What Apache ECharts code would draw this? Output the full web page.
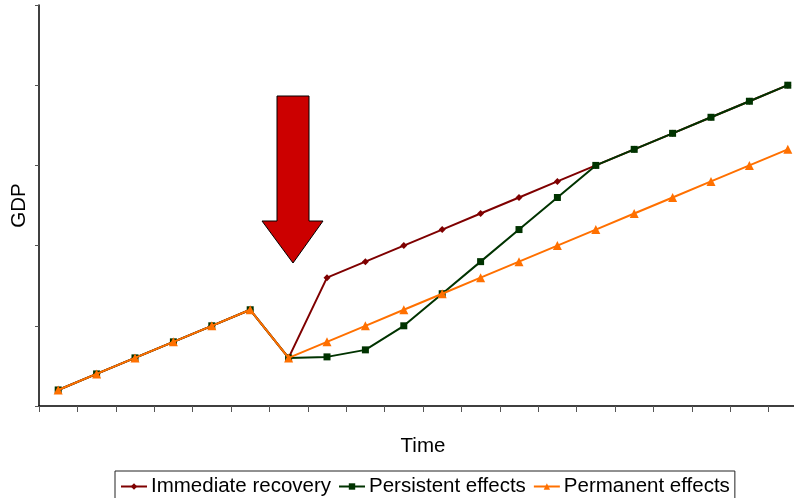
<!DOCTYPE html>
<html><head><meta charset="utf-8">
<script src="https://cdn.jsdelivr.net/npm/echarts@6/dist/echarts.min.js"></script>
<style>html,body{margin:0;padding:0;background:#fff}#c{width:794px;height:498px}</style>
</head><body><div id="c"></div>
<script>
const categories = ['1','2','3','4','5','6','7','8','9','10','11','12','13','14','15','16','17','18','19','20'];
const immediateRecovery = [4,8,12,16,20,24,12,32,36,40,44,48,52,56,60,64,68,72,76,80];
const persistentEffects = [4,8,12,16,20,24,12,12.25,14,20,28,36,44,52,60,64,68,72,76,80];
const permanentEffects  = [4,8,12,16,20,24,12,16,20,24,28,32,36,40,44,48,52,56,60,64];
const yTicks = [0,20,40,60,80,100];

const chart = echarts.init(document.getElementById('c'));
const font = 'Liberation Sans, Arial, sans-serif';
chart.setOption({
  animation: false,
  backgroundColor: '#fff',
  grid: {left: 39, right: -13, top: 5, bottom: 92, containLabel: false, outerBoundsMode: 'none'},
  xAxis: {
    type: 'category', data: categories, boundaryGap: true,
    name: 'Time', nameLocation: 'middle', nameGap: 30,
    nameTextStyle: {fontFamily: font, fontSize: 20.5, color: '#000'},
    axisLine: {lineStyle: {color: '#000', width: 1.5}},
    axisTick: {show: true, length: 6, lineStyle: {color: '#555'}},
    axisLabel: {show: false},
    splitLine: {show: false}
  },
  yAxis: {
    type: 'value', min: yTicks[0], max: yTicks[yTicks.length-1], interval: 20,
    name: 'GDP', nameLocation: 'middle', nameGap: 9,
    nameTextStyle: {fontFamily: font, fontSize: 20.5, color: '#000'},
    axisLine: {show: true, lineStyle: {color: '#000', width: 1.5}},
    axisTick: {show: true, length: 4, lineStyle: {color: '#555'}},
    axisLabel: {show: false},
    splitLine: {show: false}
  },
  legend: {
    left: 115, top: 471,
    itemWidth: 26, itemHeight: 8, itemGap: 7,
    padding: [5, 5, 10, 5],
    borderColor: '#222', borderWidth: 1,
    textStyle: {fontFamily: font, fontSize: 20.5, color: '#000', padding: [0,0,0,-1]},
    data: ['Immediate recovery', 'Persistent effects', 'Permanent effects']
  },
  series: [
    {name: 'Immediate recovery', type: 'line', data: immediateRecovery,
     symbol: 'diamond', symbolSize: 7, color: '#7f0000',
     lineStyle: {width: 2, color: '#7f0000'}, itemStyle: {color: '#7f0000'}, z: 2},
    {name: 'Persistent effects', type: 'line', data: persistentEffects,
     symbol: 'rect', symbolSize: 7, color: '#003300',
     lineStyle: {width: 2, color: '#003300'}, itemStyle: {color: '#003300'}, z: 3},
    {name: 'Permanent effects', type: 'line', data: permanentEffects,
     symbol: 'triangle', symbolSize: 9, color: '#ff7000',
     lineStyle: {width: 2, color: '#ff7000'}, itemStyle: {color: '#ff7000'}, z: 4}
  ],
  graphic: [{
    type: 'polygon', z: 10,
    shape: {points: [[277,96],[309,96],[309,221],[323,221],[293,263],[262,221],[277,221]]},
    style: {fill: '#cc0000', stroke: '#000', lineWidth: 1}
  }]
});
</script></body></html>
